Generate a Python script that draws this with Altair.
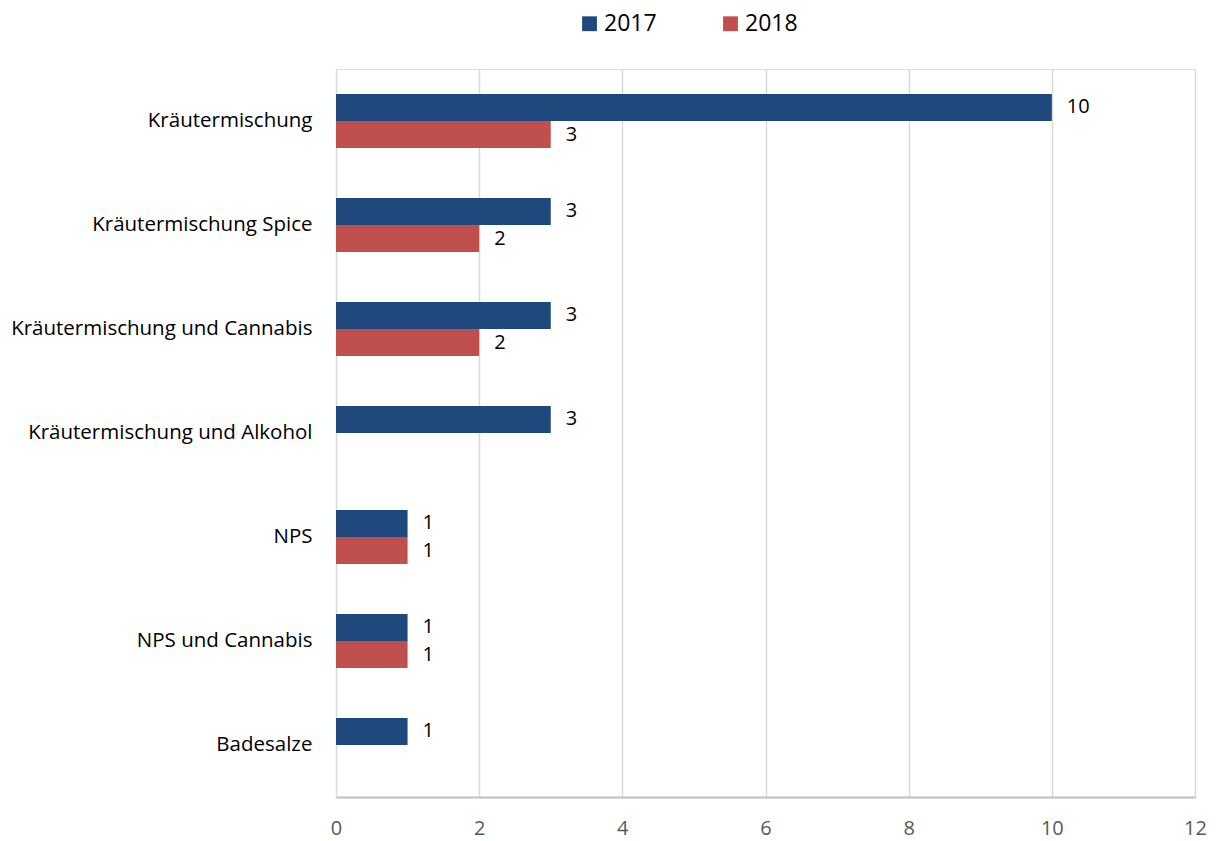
import altair as alt
import pandas as pd

categories = [
    "Kräutermischung",
    "Kräutermischung Spice",
    "Kräutermischung und Cannabis",
    "Kräutermischung und Alkohol",
    "NPS",
    "NPS und Cannabis",
    "Badesalze",
]
values_2017 = [10, 3, 3, 3, 1, 1, 1]
values_2018 = [3, 2, 2, None, 1, 1, None]
years = ["2017", "2018"]
colors = ["#1F497D", "#C0504D"]

rows = []
for c, v17, v18 in zip(categories, values_2017, values_2018):
    if v17 is not None:
        rows.append({"Kategorie": c, "Jahr": "2017", "Wert": v17})
    if v18 is not None:
        rows.append({"Kategorie": c, "Jahr": "2018", "Wert": v18})
df = pd.DataFrame(rows)

FONT = "Open Sans"

y_enc = alt.Y(
    "Kategorie:N",
    sort=categories,
    scale=alt.Scale(paddingInner=0.48, paddingOuter=0.24),
    axis=alt.Axis(
        title=None, domain=False, ticks=False, tickSize=0, grid=False,
        labelFont=FONT, labelFontSize=20.5, labelColor="#000000",
        labelPadding=24, labelLimit=400,
    ),
)
x_enc = alt.X(
    "Wert:Q",
    scale=alt.Scale(domain=[0, 12], nice=False),
    axis=alt.Axis(
        title=None, values=[0, 2, 4, 6, 8, 10, 12], format="d",
        ticks=False, tickSize=0, labelFlush=False,
        grid=True, gridColor="#D9D9D9", gridWidth=1.5,
        domain=True, domainColor="#BFBFBF", domainWidth=2,
        labelFont=FONT, labelFontSize=20, labelColor="#595959",
        labelBaseline="alphabetic", labelPadding=37,
    ),
)
yoff = alt.YOffset("Jahr:N", sort=years, scale=alt.Scale(domain=years, paddingInner=0, paddingOuter=0))

bars = alt.Chart(df).mark_bar().encode(
    x=x_enc,
    y=y_enc,
    yOffset=yoff,
    color=alt.Color(
        "Jahr:N",
        scale=alt.Scale(domain=years, range=colors),
        legend=alt.Legend(
            title=None, orient="none", direction="horizontal",
            legendX=242, legendY=-57, padding=0,
            symbolType="square", symbolSize=220, symbolStrokeWidth=0,
            labelFont=FONT, labelFontSize=23, labelColor="#000000",
            labelOffset=3, columnPadding=62,
        ),
    ),
)

labels = alt.Chart(df).mark_text(
    align="left", baseline="middle", dx=15, font=FONT, fontSize=20, color="#000000"
).encode(
    x=alt.X("Wert:Q"),
    y=alt.Y("Kategorie:N", sort=categories),
    yOffset=yoff,
    text=alt.Text("Wert:Q"),
)

chart = (
    alt.layer(bars, labels)
    .properties(
        width=859,
        height=728,
        autosize=alt.AutoSizeParams(type="none"),
        padding={"left": 328, "top": 61, "right": 14, "bottom": 44},
    )
    .configure_view(stroke=None)
    .configure(background="#FFFFFF")
)

chart.save("out.html", embed_options={"renderer": "svg", "actions": False})
